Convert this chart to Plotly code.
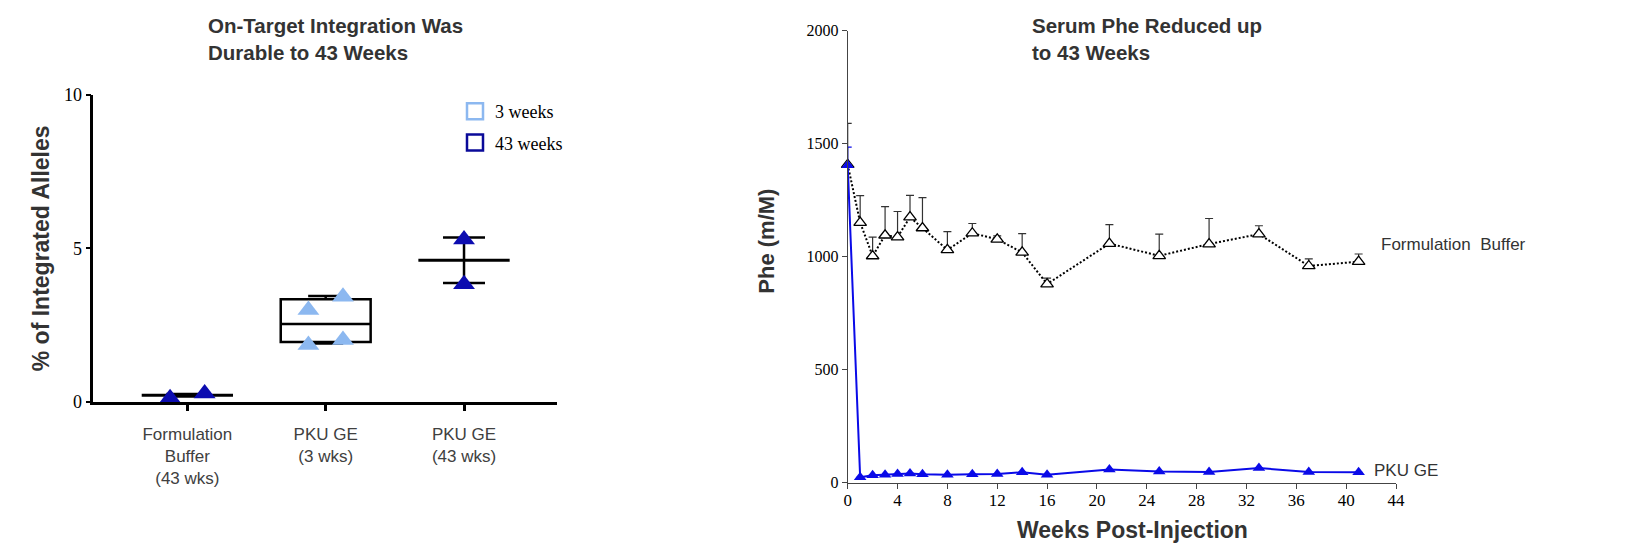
import plotly.graph_objects as go

# ---------------- Left panel data ----------------
left_categories = ["Formulation<br>Buffer<br>(43 wks)", "PKU GE<br>(3 wks)", "PKU GE<br>(43 wks)"]
left_yticks = [0, 5, 10]

buffer43_values = [0.11, 0.27]
buffer43_mean = 0.21
buffer43_sd = 0.04

pku3_values = [2.99, 3.42, 1.85, 2.01]
pku3_q1 = 1.95
pku3_median = 2.53
pku3_q3 = 3.34
pku3_min = 1.90
pku3_max = 3.45

pku43_values = [5.29, 3.83]
pku43_mean = 4.61
pku43_sd = 0.74

legend_names = ["3 weeks", "43 weeks"]

# ---------------- Right panel data ----------------
weeks = [0, 1, 2, 3, 4, 5, 6, 8, 10, 12, 14, 16, 21, 25, 29, 33, 37, 41]
buffer_phe = [1407, 1151, 1003, 1095, 1087, 1175, 1127, 1030, 1104, 1077, 1019, 879, 1058, 1004, 1056, 1100, 959, 978]
buffer_phe_sd = [183, 119, 84, 127, 113, 96, 134, 81, 43, 15, 83, 26, 84, 96, 113, 37, 31, 34]
pku_phe = [1405, 24, 33, 35, 38, 41, 37, 35, 37, 38, 46, 35, 58, 50, 47, 65, 47, 46]
pku_phe_sd = [80, None, None, None, None, None, None, None, None, None, None, None, None, None, None, None, None, None]
week_ticks = [0, 4, 8, 12, 16, 20, 24, 28, 32, 36, 40, 44]
phe_ticks = [0, 500, 1000, 1500, 2000]
series_labels = ["Formulation  Buffer", "PKU GE"]

# ---------------- Styling / layout constants ----------------
W, H = 1649, 557
SANS = "Liberation Sans, Arial, sans-serif"
SERIF = "Liberation Serif, Times New Roman, serif"
TXT = "#333333"
DARK = "#0c0cb0"
LIGHT = "#8cb8f0"
LEG_DARK = "#0a0a99"
BLUE = "#0a0ae8"
JIT2 = [-0.125, 0.125]
JIT4 = [-0.125, 0.125, -0.125, 0.125]


def px_x(p):
    return p / W


def px_y(p):
    return 1 - p / H


fig = go.Figure()

# ---- Left panel ----
fig.add_trace(go.Box(
    x=[1], q1=[pku3_q1], median=[pku3_median], q3=[pku3_q3],
    lowerfence=[pku3_min], upperfence=[pku3_max],
    width=0.65, whiskerwidth=0.39, boxpoints=False,
    line=dict(color="black", width=2.5), fillcolor="rgba(0,0,0,0)",
    xaxis="x", yaxis="y", showlegend=False, hoverinfo="skip"))

fig.add_trace(go.Scatter(
    x=[0, 2], y=[buffer43_mean, pku43_mean], mode="markers",
    marker=dict(size=1, color="rgba(0,0,0,0)"),
    error_x=dict(type="constant", value=0.33, width=0, thickness=3, color="black"),
    error_y=dict(type="data", array=[buffer43_sd, pku43_sd], width=21, thickness=2.5, color="black"),
    xaxis="x", yaxis="y", showlegend=False, cliponaxis=False, hoverinfo="skip"))

fig.add_trace(go.Scatter(
    x=[0 + j for j in JIT2], y=buffer43_values, mode="markers",
    marker=dict(symbol="triangle-up", size=19, color=DARK),
    xaxis="x", yaxis="y", showlegend=False, cliponaxis=False))
fig.add_trace(go.Scatter(
    x=[1 + j for j in JIT4], y=pku3_values, mode="markers",
    marker=dict(symbol="triangle-up", size=19, color=LIGHT),
    xaxis="x", yaxis="y", showlegend=False, cliponaxis=False))
fig.add_trace(go.Scatter(
    x=[2, 2], y=pku43_values, mode="markers",
    marker=dict(symbol="triangle-up", size=19, color=DARK),
    xaxis="x", yaxis="y", showlegend=False, cliponaxis=False))

# legend keys
for name, col, grp in zip(legend_names, [LIGHT, LEG_DARK], ["a", "b"]):
    fig.add_trace(go.Scatter(
        x=[None], y=[None], mode="markers", name=name, legendgroup=grp,
        marker=dict(symbol="square-open", size=16, color=col, line=dict(width=2.5, color=col)),
        xaxis="x", yaxis="y", showlegend=True))

# ---- Right panel ----
n = len(weeks)
fig.add_trace(go.Scatter(
    x=weeks, y=buffer_phe, mode="lines+markers",
    line=dict(color="black", width=2, dash="2px,2px"),
    marker=dict(symbol="triangle-up", size=11, color="white", line=dict(color="black", width=1.3)),
    error_y=dict(type="data", symmetric=False, array=buffer_phe_sd, arrayminus=[0] * n,
                 color="#333333", thickness=1.2, width=4),
    xaxis="x2", yaxis="y2", showlegend=False, cliponaxis=False))
fig.add_trace(go.Scatter(
    x=weeks, y=pku_phe, mode="lines+markers",
    line=dict(color=BLUE, width=2),
    marker=dict(symbol="triangle-up", size=11, color=BLUE),
    error_y=dict(type="data", symmetric=False, array=pku_phe_sd,
                 arrayminus=[0 if v is not None else None for v in pku_phe_sd],
                 color=BLUE, thickness=1.2, width=4),
    xaxis="x2", yaxis="y2", showlegend=False, cliponaxis=False))

annotations = [
    dict(text="<b>On-Target Integration Was<br>Durable to 43 Weeks</b>", xref="paper", yref="paper",
         x=px_x(206), y=px_y(12), xanchor="left", yanchor="top", align="left", showarrow=False,
         font=dict(family=SANS, size=20.5, color=TXT)),
    dict(text="<b>Serum Phe Reduced up<br>to 43 Weeks</b>", xref="paper", yref="paper",
         x=px_x(1030), y=px_y(12), xanchor="left", yanchor="top", align="left", showarrow=False,
         font=dict(family=SANS, size=20.5, color=TXT)),
    dict(text="<b>Phe (m/M)</b>", xref="paper", yref="paper", x=px_x(767), y=px_y(241.7),
         xanchor="center", yanchor="middle", textangle=-90, showarrow=False,
         font=dict(family=SANS, size=22, color=TXT)),
    dict(text="<b>Weeks Post-Injection</b>", xref="paper", yref="paper", x=px_x(1132), y=px_y(530),
         xanchor="center", yanchor="middle", showarrow=False,
         font=dict(family=SANS, size=23, color=TXT)),
    dict(text=series_labels[0], xref="x2", yref="y2", x=weeks[-1], y=buffer_phe[-1],
         xanchor="left", yanchor="middle", xshift=20, yshift=17, showarrow=False,
         font=dict(family=SANS, size=17, color=TXT)),
    dict(text=series_labels[1], xref="x2", yref="y2", x=weeks[-1], y=pku_phe[-1],
         xanchor="left", yanchor="middle", xshift=13, yshift=2, showarrow=False,
         font=dict(family=SANS, size=17, color=TXT)),
]

fig.update_layout(
    width=W, height=H, margin=dict(l=0, r=0, t=0, b=0, autoexpand=False),
    paper_bgcolor="white", plot_bgcolor="white",
    showlegend=True,
    legend=dict(x=px_x(455), y=px_y(93), xanchor="left", yanchor="top",
                font=dict(family=SERIF, size=18, color="black"),
                bgcolor="rgba(0,0,0,0)", tracegroupgap=5, itemclick=False),
    annotations=annotations,
    xaxis=dict(domain=[px_x(93.3), px_x(556.7)], range=[-0.68, 2.67], anchor="y",
               tickmode="array", tickvals=[0, 1, 2], ticktext=left_categories,
               ticks="outside", ticklen=7, tickwidth=2.5, tickcolor="black",
               showline=True, linecolor="black", linewidth=2.5,
               showgrid=False, zeroline=False, ticklabelstandoff=8,
               tickfont=dict(family=SANS, size=17, color="#404040")),
    yaxis=dict(domain=[px_y(401.7), px_y(95)], range=[0, 10], anchor="x",
               tickmode="array", tickvals=left_yticks,
               ticks="outside", ticklen=5, tickwidth=2, tickcolor="black",
               showline=True, linecolor="black", linewidth=2.5,
               showgrid=False, zeroline=False,
               tickfont=dict(family=SERIF, size=18, color="black"),
               title=dict(text="% of Integrated Alleles", standoff=8,
                          font=dict(family=SANS, size=23, color=TXT, weight="bold"))),
    xaxis2=dict(domain=[px_x(847.7), px_x(1396)], range=[0, 44], anchor="y2",
                tickmode="array", tickvals=week_ticks,
                ticks="outside", ticklen=5, tickwidth=1, tickcolor="#444444",
                showline=True, linecolor="#444444", linewidth=1,
                showgrid=False, zeroline=False, ticklabelstandoff=-3,
                tickfont=dict(family=SERIF, size=17, color="black")),
    yaxis2=dict(domain=[px_y(482.7), px_y(30.7)], range=[0, 2000], anchor="x2",
                tickmode="array", tickvals=phe_ticks,
                ticks="outside", ticklen=5, tickwidth=1, tickcolor="#444444",
                showline=True, linecolor="#444444", linewidth=1,
                showgrid=False, zeroline=False,
                tickfont=dict(family=SERIF, size=16, color="black")),
)

fig.write_html("out.html")
